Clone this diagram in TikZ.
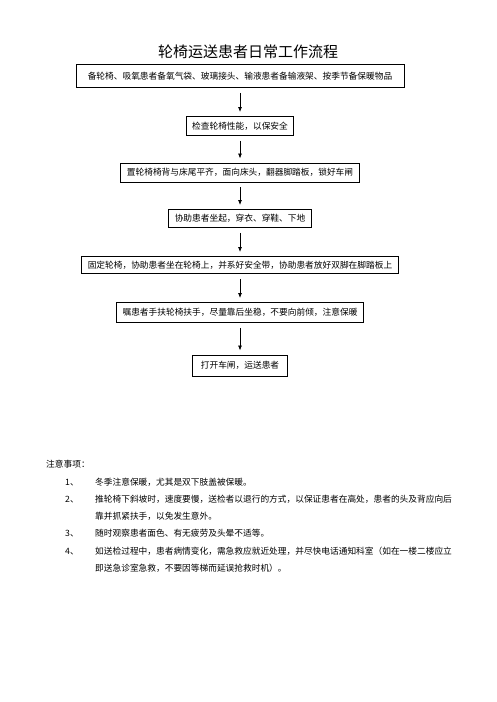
\documentclass[tikz,border=0pt]{standalone}
\usepackage{fontspec}
\setmainfont{Noto Sans CJK SC}
\usetikzlibrary{arrows.meta}

\begin{document}
\begin{tikzpicture}[x=1pt,y=-1pt,
    every node/.style={font=\fontsize{8.7}{10}\selectfont},
    stepbox/.style={draw,line width=0.9pt,inner xsep=6pt,minimum height=19pt},
    flow/.style={-{Latex[length=5pt,width=4pt]},line width=0.8pt,shorten <=5pt,shorten >=4pt},
    note/.style={anchor=base west,inner sep=0pt}
   ]
  \useasboundingbox[fill=white] (0,0) rectangle (496,702);
  \node[font=\fontsize{15}{18}\selectfont] (title) at (248,52) {轮椅运送患者日常工作流程};
  % flow steps
  \node[stepbox,minimum width=328pt,minimum height=23pt] (prepare) at (240,76)
    {备轮椅、吸氧患者备氧气袋、玻璃接头、输液患者备输液架、按季节备保暖物品};
  \node[stepbox] (check) at (240,126) {检查轮椅性能，以保安全};
  \node[stepbox] (place) at (240,172.5) {置轮椅椅背与床尾平齐，面向床头，翻器脚踏板，锁好车闸};
  \node[stepbox,minimum height=18pt] (help) at (240,218.5) {协助患者坐起，穿衣、穿鞋、下地};
  \node[stepbox,minimum height=17pt] (seat) at (240,265)
    {固定轮椅，协助患者坐在轮椅上，并系好安全带，协助患者放好双脚在脚踏板上};
  \node[stepbox,minimum height=20pt] (remind) at (240,312.5)
    {嘱患者手扶轮椅扶手，尽量靠后坐稳，不要向前倾，注意保暖};
  \node[stepbox,minimum height=21pt,inner xsep=8pt] (go) at (240,365.5) {打开车闸，运送患者};
  \foreach \a/\b in {prepare/check,check/place,place/help,help/seat,seat/remind,remind/go}
    \draw[flow] (\a) -- (\b);
  % notes
  \node[note] (notes) at (46,467) {注意事项：};
  \node[note] (num1) at (65,485) {1、};
  \node[note] (item1) at (95,485) {冬季注意保暖，尤其是双下肢盖被保暖。};
  \node[note] (num2) at (65,502) {2、};
  \node[note] (item2) at (95,502) {推轮椅下斜坡时，速度要慢，送检者以退行的方式，以保证患者在高处，患者的头及背应向后};
  \node[note] (item2b) at (95,519) {靠并抓紧扶手，以免发生意外。};
  \node[note] (num3) at (65,536) {3、};
  \node[note] (item3) at (95,536) {随时观察患者面色、有无疲劳及头晕不适等。};
  \node[note] (num4) at (65,554) {4、};
  \node[note] (item4) at (95,554) {如送检过程中，患者病情变化，需急救应就近处理，并尽快电话通知科室（如在一楼二楼应立};
  \node[note] (item4b) at (95,571) {即送急诊室急救，不要因等梯而延误抢救时机）。};
\end{tikzpicture}
\end{document}
